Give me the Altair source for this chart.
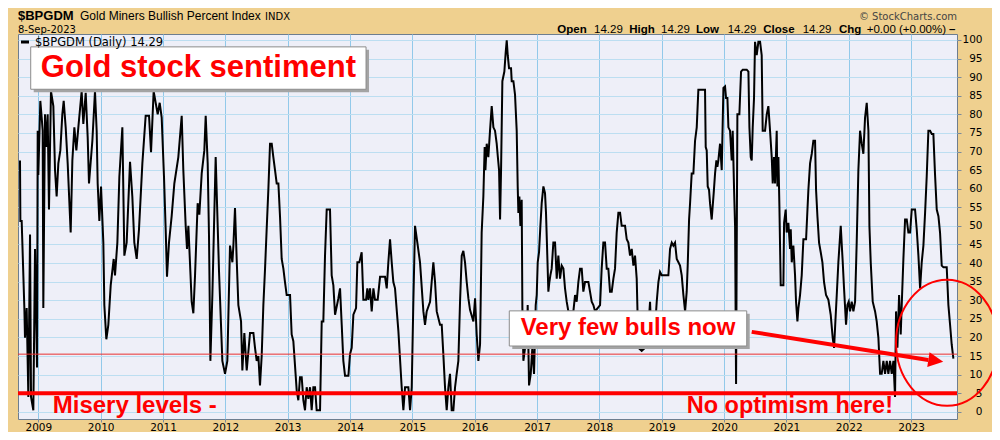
import altair as alt
import pandas as pd

# ---------------- data ----------------
years = [
    2008.706, 2008.712, 2008.733, 2008.776, 2008.786, 2008.813, 2008.840, 2008.867, 2008.883, 2008.920,
    2008.947, 2008.979, 2008.990, 2009.000, 2009.032, 2009.054, 2009.070, 2009.080, 2009.107, 2009.128,
    2009.150, 2009.171, 2009.203, 2009.241, 2009.268, 2009.294, 2009.321, 2009.353, 2009.385, 2009.407,
    2009.439, 2009.471, 2009.519, 2009.546, 2009.578, 2009.610, 2009.642, 2009.695, 2009.722, 2009.760,
    2009.792, 2009.813, 2009.867, 2009.909, 2009.936, 2009.952, 2009.979, 2010.006, 2010.043, 2010.059,
    2010.091, 2010.123, 2010.161, 2010.209, 2010.230, 2010.268, 2010.300, 2010.348, 2010.380, 2010.417,
    2010.471, 2010.508, 2010.540, 2010.578, 2010.615, 2010.669, 2010.722, 2010.776, 2010.808, 2010.850,
    2010.915, 2010.947, 2010.979, 2011.016, 2011.043, 2011.064, 2011.096, 2011.139, 2011.182, 2011.246,
    2011.300, 2011.326, 2011.364, 2011.385, 2011.407, 2011.460, 2011.487, 2011.514, 2011.556, 2011.583,
    2011.621, 2011.663, 2011.685, 2011.717, 2011.738, 2011.760, 2011.792, 2011.845, 2011.899, 2011.952,
    2011.995, 2012.032, 2012.075, 2012.113, 2012.129, 2012.155, 2012.182, 2012.209, 2012.252, 2012.273,
    2012.305, 2012.343, 2012.396,
    2012.450, 2012.476, 2012.503, 2012.530, 2012.556, 2012.583, 2012.610, 2012.637, 2012.663, 2012.690,
    2012.717, 2012.744, 2012.770, 2012.797, 2012.824, 2012.851, 2012.877, 2012.904, 2012.931, 2012.957,
    2012.984, 2013.038, 2013.064, 2013.091, 2013.145, 2013.171, 2013.198, 2013.225, 2013.252, 2013.278,
    2013.305, 2013.332, 2013.359, 2013.385, 2013.412, 2013.439, 2013.465, 2013.519, 2013.546, 2013.572,
    2013.599, 2013.626, 2013.679, 2013.706, 2013.733, 2013.760, 2013.813, 2013.840, 2013.867, 2013.893,
    2013.920, 2013.974, 2014.000, 2014.027, 2014.054, 2014.097, 2014.118, 2014.150, 2014.187, 2014.214,
    2014.257, 2014.278, 2014.294, 2014.321, 2014.348, 2014.375, 2014.401, 2014.444, 2014.482, 2014.562,
    2014.589, 2014.615, 2014.642, 2014.669, 2014.695, 2014.722, 2014.776, 2014.829, 2014.856, 2014.883,
    2014.936, 2014.963, 2014.990, 2015.016, 2015.043, 2015.080, 2015.123, 2015.177, 2015.203, 2015.230,
    2015.284, 2015.310, 2015.337, 2015.364, 2015.391, 2015.444, 2015.471, 2015.497, 2015.524, 2015.551,
    2015.578, 2015.604, 2015.631, 2015.658, 2015.685, 2015.711, 2015.738, 2015.765, 2015.792, 2015.818,
    2015.845, 2015.872, 2015.899, 2015.925, 2015.979, 2016.006, 2016.032, 2016.059, 2016.086, 2016.112,
    2016.139, 2016.160,
    2016.172, 2016.193, 2016.219, 2016.246, 2016.273, 2016.300, 2016.326, 2016.353, 2016.369, 2016.391,
    2016.407, 2016.423, 2016.444, 2016.476, 2016.498, 2016.514, 2016.530, 2016.551, 2016.583, 2016.594,
    2016.621, 2016.647, 2016.674, 2016.690, 2016.701, 2016.717, 2016.733, 2016.754, 2016.765, 2016.781,
    2016.808, 2016.834, 2016.850, 2016.872, 2016.899, 2016.925, 2016.952, 2016.979, 2016.995, 2017.011,
    2017.032, 2017.054, 2017.075, 2017.102, 2017.128, 2017.144, 2017.160, 2017.182, 2017.198, 2017.214,
    2017.235, 2017.262, 2017.289, 2017.316, 2017.342, 2017.369, 2017.396, 2017.423, 2017.449, 2017.476,
    2017.503, 2017.583, 2017.610, 2017.636, 2017.663, 2017.690, 2017.717, 2017.743, 2017.770, 2017.824,
    2017.850, 2017.877, 2017.904, 2017.931, 2018.011, 2018.037, 2018.064, 2018.091, 2018.118, 2018.144,
    2018.171, 2018.198, 2018.225, 2018.251, 2018.278, 2018.305, 2018.332, 2018.358, 2018.412, 2018.439,
    2018.465, 2018.492, 2018.519, 2018.546, 2018.572, 2018.599, 2018.626, 2018.679, 2018.733, 2018.759,
    2018.786, 2018.813, 2018.840, 2018.866, 2018.893, 2018.920, 2018.947, 2018.973, 2019.000, 2019.107,
    2019.134, 2019.161, 2019.187, 2019.214, 2019.241, 2019.268, 2019.294, 2019.321, 2019.348, 2019.375,
    2019.401, 2019.417, 2019.439, 2019.455, 2019.481, 2019.508, 2019.535, 2019.562, 2019.588, 2019.695,
    2019.706, 2019.722, 2019.738, 2019.759, 2019.775, 2019.802, 2019.818, 2019.834, 2019.856, 2019.877,
    2019.893, 2019.909, 2019.936, 2019.963, 2019.990, 2020.016,
    2020.032, 2020.054, 2020.070, 2020.096, 2020.123, 2020.139, 2020.161, 2020.177, 2020.193, 2020.214,
    2020.246, 2020.273, 2020.300, 2020.364, 2020.391, 2020.407, 2020.428, 2020.444, 2020.460, 2020.481,
    2020.497, 2020.524, 2020.551, 2020.578, 2020.604, 2020.620, 2020.658, 2020.685, 2020.711, 2020.738,
    2020.765, 2020.781, 2020.802, 2020.818, 2020.845, 2020.856, 2020.872, 2020.888, 2020.909, 2020.952,
    2020.963, 2020.989, 2021.005, 2021.032, 2021.059, 2021.070, 2021.086, 2021.112, 2021.139, 2021.155,
    2021.177, 2021.193, 2021.219, 2021.246, 2021.273, 2021.316, 2021.353, 2021.380, 2021.407, 2021.433,
    2021.460, 2021.476, 2021.498, 2021.524, 2021.551, 2021.578, 2021.604, 2021.636, 2021.674, 2021.711,
    2021.743, 2021.765, 2021.786, 2021.808, 2021.834, 2021.872, 2021.904, 2021.925, 2021.957, 2021.979,
    2022.000, 2022.021, 2022.048, 2022.075, 2022.102, 2022.128, 2022.155, 2022.182, 2022.209, 2022.235,
    2022.262, 2022.289, 2022.316, 2022.332, 2022.353, 2022.385, 2022.423, 2022.449, 2022.476, 2022.503,
    2022.529, 2022.556, 2022.583, 2022.610, 2022.636, 2022.663, 2022.690, 2022.717, 2022.743, 2022.759,
    2022.781, 2022.808, 2022.834, 2022.856, 2022.877, 2022.904, 2022.931, 2022.957, 2022.984, 2023.011,
    2023.064, 2023.091, 2023.118, 2023.145, 2023.171, 2023.198, 2023.225, 2023.251, 2023.278, 2023.305,
    2023.332, 2023.358, 2023.385, 2023.412, 2023.439, 2023.465, 2023.492, 2023.519, 2023.572, 2023.599,
    2023.626, 2023.652, 2023.679,
]

values = [
    67.6, 51.3, 51.3, 27.9, 19.9, 27.9, 4.0, 47.7, 4.0, 0.4,
    43.8, 11.9, 75.6, 63.7, 83.6, 79.1, 75.6, 27.9, 80.0, 71.2,
    80.0, 54.4, 86.2, 82.2, 65.0, 57.9, 66.8, 70.3, 80.0, 83.6,
    76.5, 66.8, 48.2, 67.6, 76.5, 70.3, 76.5, 86.2, 77.4, 85.8,
    73.8, 61.4, 72.9, 86.2, 75.6, 61.4, 51.3, 60.6, 45.5, 28.7,
    19.5, 23.4, 34.0, 41.1, 36.7, 45.5, 63.2, 76.5, 42.0, 45.5,
    67.2, 57.9, 45.5, 41.1, 49.1, 66.8, 79.6, 79.6, 69.8, 86.2,
    80.0, 83.1, 79.1, 63.2, 49.1, 36.3, 45.5, 52.6, 61.4, 68.5,
    79.6, 65.0, 50.0, 43.8, 50.0, 29.6, 26.5, 36.7, 56.1, 53.0,
    64.1, 70.3, 79.6, 66.8, 47.3, 13.7, 31.4, 68.5, 37.6, 13.7,
    10.2, 13.7, 44.7, 40.2, 44.7, 54.8, 41.1, 28.7, 24.3, 11.1,
    21.2, 11.1, 21.2,
    21.2, 17.2, 13.7, 15.0, 7.1, 15.0, 28.7, 38.5, 49.1, 59.7,
    72.1, 72.1, 68.5, 65.0, 61.4, 61.4, 52.6, 41.1, 38.5, 34.9,
    31.4, 31.4, 20.8, 19.0, 5.7, 3.1, 9.3, 9.3, 3.1, 0.4,
    6.6, 3.5, 6.6, 0.4, 6.6, 6.6, 0.4, 0.4, 24.3, 24.3,
    42.0, 54.4, 54.4, 36.7, 34.0, 26.1, 30.5, 33.2, 23.4, 13.7,
    9.7, 9.7, 15.5, 17.2, 26.1, 27.9, 40.2, 40.2, 42.9, 30.1,
    30.1, 33.2, 30.1, 33.2, 27.0, 33.2, 30.1, 30.1, 36.3, 36.3,
    33.2, 40.2, 46.4, 40.2, 34.9, 33.2, 21.7, 6.6, 0.4, 6.6,
    6.6, 0.4, 6.6, 29.6, 50.0, 45.5, 40.2, 27.0, 23.4, 27.0,
    29.6, 34.9, 40.2, 34.9, 27.0, 23.4, 23.4, 15.5, 6.6, 0.4,
    6.6, 10.2, 0.4, 0.4, 6.6, 10.2, 13.7, 29.6, 42.0, 43.3,
    40.2, 34.9, 30.5, 27.4, 24.3, 30.5, 20.8, 13.7, 18.1, 48.2,
    57.9, 71.2,
    65.0, 72.1, 68.5, 75.6, 82.2, 76.5, 75.6, 72.1, 69.0, 65.0,
    51.7, 65.0, 88.9, 91.5, 96.8, 99.9, 95.9, 92.4, 92.4, 88.9,
    88.9, 85.3, 75.6, 60.6, 53.5, 57.9, 50.0, 57.0, 27.9, 13.7,
    17.2, 17.2, 28.7, 7.1, 10.2, 17.2, 10.2, 28.7, 31.4, 40.2,
    42.9, 50.0, 56.1, 60.6, 58.8, 53.5, 44.7, 32.3, 34.9, 36.7,
    38.5, 45.5, 45.5, 35.8, 42.0, 35.8, 39.3, 38.5, 33.2, 29.6,
    27.0, 27.0, 31.4, 29.6, 34.9, 38.5, 38.5, 32.3, 34.9, 34.9,
    32.3, 29.6, 28.7, 27.0, 28.7, 38.5, 45.5, 45.5, 38.5, 38.5,
    32.3, 32.3, 35.8, 38.5, 48.2, 53.5, 53.5, 50.0, 50.0, 46.4,
    45.5, 42.0, 43.8, 39.3, 42.0, 35.8, 17.2, 16.4, 17.2, 17.2,
    22.5, 29.6, 17.2, 17.2, 22.5, 29.6, 34.9, 37.6, 36.7, 36.7,
    43.8, 45.5, 44.7, 45.5, 41.1, 40.2, 39.3, 36.7, 31.4, 27.0,
    32.3, 39.3, 51.7, 56.1, 64.1, 64.1, 72.9, 76.5, 86.6, 86.6,
    71.2, 70.3, 60.6, 59.7, 56.1, 51.7, 55.3, 58.8, 64.1, 67.6,
    65.9, 67.6, 72.1, 65.0, 87.1, 87.5,
    84.4, 84.4, 76.5, 75.6, 67.6, 75.6, 59.7, 50.0, 7.5, 80.0,
    80.0, 91.5, 92.0, 92.0, 91.5, 76.5, 68.5, 67.6, 76.5, 84.4,
    99.5, 95.9, 99.5, 99.5, 95.9, 75.6, 75.6, 80.0, 82.2, 75.6,
    68.5, 61.4, 68.5, 61.4, 75.6, 60.6, 68.5, 55.3, 34.0, 34.0,
    50.8, 54.4, 48.2, 50.8, 43.8, 49.1, 40.2, 44.7, 36.7, 29.6,
    24.3, 27.9, 31.4, 36.7, 46.4, 46.4, 59.7, 66.8, 69.4, 72.9,
    72.9, 59.7, 52.6, 45.5, 42.9, 40.2, 34.9, 31.4, 30.1, 26.1,
    19.9, 17.2, 24.3, 31.4, 40.2, 50.0, 40.2, 33.2, 23.4, 28.7,
    29.6, 27.0, 29.6, 27.0, 29.6, 45.5, 65.0, 75.6, 72.1, 69.4,
    79.1, 83.1, 75.6, 50.0, 40.2, 29.6, 27.0, 24.3, 19.9, 10.2,
    10.2, 13.7, 10.2, 13.7, 10.2, 13.7, 10.2, 13.7, 4.0, 27.0,
    17.2, 31.4, 20.8, 31.4, 41.1, 51.7, 51.7, 48.2, 48.2, 54.4,
    54.4, 49.1, 42.0, 33.2, 40.2, 44.7, 53.5, 63.2, 75.6, 75.6,
    74.7, 74.7, 63.7, 54.4, 52.6, 48.2, 39.3, 38.9, 38.9, 28.7,
    23.4, 18.1, 14.3,
]

year_ticks = [2009, 2010, 2011, 2012, 2013, 2014, 2015, 2016,
              2017, 2018, 2019, 2020, 2021, 2022, 2023]
half_year_lines = [2009.5, 2010.5, 2011.5, 2012.5, 2013.5, 2014.5, 2015.5, 2016.5,
                   2017.5, 2018.5, 2019.5, 2020.5, 2021.5, 2022.5, 2023.5]
y_ticks = [0, 5, 10, 15, 20, 25, 30, 35, 40, 45, 50, 55, 60, 65, 70, 75, 80, 85, 90, 95, 100]

misery_level = [5]
recent_level = [15.5]

# annotation boxes (data coordinates)
box_x0 = [2008.878, 2016.555]
box_x1 = [2014.257, 2020.364]
box_y0 = [98.14, 27.14]
box_y1 = [86.74, 17.69]

# ---------------- styling ----------------
RED = "#ff0000"
BG = "#efd08f"
PLOT_BG = "#eeeff8"
GRID = "#bcdef1"
GRID_YEAR = "#92c9ea"
W, H = 939, 385

xs = alt.Scale(domain=[2008.674, 2023.737], nice=False, zero=False)
ys = alt.Scale(domain=[-1.94, 101.6], nice=False, zero=False)

is_year = "datum.value % 1 === 0"

x_axis = alt.Axis(
    values=sorted(year_ticks + half_year_lines),
    format="d",
    labelExpr=f"{is_year} ? datum.label : ''",
    grid=True,
    gridColor={"condition": {"test": is_year, "value": GRID_YEAR}, "value": GRID},
    gridWidth=1,
    ticks=True,
    tickSize=3,
    tickColor={"condition": {"test": is_year, "value": "#7a8a9c"}, "value": "transparent"},
    labelPadding=0,
    labelFont="DejaVu Sans",
    labelFontSize=10.5,
    labelColor="#000000",
    labelOverlap=False,
    labelFlush=False,
    domain=False,
    title=None,
)
y_axis = alt.Axis(
    orient="right",
    values=y_ticks,
    grid=True,
    gridColor=GRID,
    gridWidth=1,
    tickSize=4,
    tickColor="#7a8a9c",
    labelAlign="right",
    labelPadding=21,
    labelFont="DejaVu Sans",
    labelFontSize=10.5,
    labelColor="#000000",
    labelOverlap=False,
    domain=False,
    title=None,
)


def X(field):
    return alt.X(f"{field}:Q", scale=xs, axis=x_axis)


def Y(field):
    return alt.Y(f"{field}:Q", scale=ys, axis=y_axis)


df = pd.DataFrame({"year": years, "value": values})

line = alt.Chart(df).mark_line(color="black", strokeWidth=2, clip=True).encode(
    x=X("year"), y=Y("value"),
)

thin_red = alt.Chart(pd.DataFrame({"value": recent_level})).mark_rule(
    color="#e83030", strokeWidth=1
).encode(y=Y("value"))

thick_red = alt.Chart(pd.DataFrame({"value": misery_level})).mark_rule(
    color=RED, strokeWidth=4
).encode(y=Y("value"))

boxes = pd.DataFrame({"x0": box_x0, "x1": box_x1, "y0": box_y0, "y1": box_y1})

shadow = alt.Chart(boxes).transform_calculate(
    sx0="datum.x0 + 0.048", sx1="datum.x1 + 0.048",
    sy0="datum.y0 - 0.8", sy1="datum.y1 - 0.8",
).mark_rect(color="#a4a4a4").encode(
    x=X("sx0"), x2="sx1:Q", y=Y("sy0"), y2="sy1:Q",
)
box = alt.Chart(boxes).mark_rect(fill="white", stroke="#8c8c8c", strokeWidth=1).encode(
    x=X("x0"), x2="x1:Q", y=Y("y0"), y2="y1:Q",
)


def note(text, x, y, size, align="center", baseline="middle"):
    return alt.Chart(pd.DataFrame({"x": [x], "y": [y]})).mark_text(
        text=text, font="Liberation Sans", fontWeight="bold", fontSize=size,
        color=RED, align=align, baseline=baseline,
    ).encode(x=X("x"), y=Y("y"))


notes = [
    note("Gold stock sentiment", 2011.568, 92.44, 31),
    note("Very few bulls now", 2018.46, 22.4, 24),
    note("Misery levels -", 2009.231, -0.45, 24, align="left", baseline="alphabetic"),
    note("No optimism here!", 2019.401, -0.45, 23.5, align="left", baseline="alphabetic"),
]

arrow_line = alt.Chart(pd.DataFrame({
    "x": [2020.444], "y": [21.49], "x2": [2023.277], "y2": [13.93]
})).mark_rule(color=RED, strokeWidth=4).encode(
    x=X("x"), x2="x2:Q", y=Y("y"), y2="y2:Q",
)
arrow_head = alt.Chart(pd.DataFrame({"x": [2023.397], "y": [13.74]})).mark_point(
    shape="M1,0L-1,-1L-1,1Z", size=225, angle=8.9, filled=True,
    color=RED, opacity=1, strokeWidth=0,
).encode(x=X("x"), y=Y("y"))
ellipse = alt.Chart(pd.DataFrame({"x": [2023.577], "y": [18.57]})).mark_point(
    shape="M-1,0A1,1.235,0,1,1,1,0A1,1.235,0,1,1,-1,0Z", size=10404,
    filled=False, color=RED, opacity=1, strokeWidth=2,
).encode(x=X("x"), y=Y("y"))


def label(text, x, y, size, weight="normal", font="Liberation Sans",
          color="#000000", align="left"):
    return alt.Chart(alt.Data(values=[{"k": 0}])).mark_text(
        text=text, align=align, baseline="alphabetic", fontSize=size,
        fontWeight=weight, font=font, color=color,
    ).encode(x=alt.value(x), y=alt.value(y))


L1 = -13.7   # first header line baseline (relative to plot top)
L2 = -1.5    # second header line baseline

header = [
    label("$BPGDM", 0, L1, 13, weight="bold"),
    label("Gold Miners Bullish Percent Index", 62, L1 - 0.3, 12),
    label("INDX", 247, L1 - 0.3, 10, font="DejaVu Sans"),
    label("8-Sep-2023", 0, L2, 10, font="DejaVu Sans"),
    label("\u00a9 StockCharts.com", W, L1 - 0.8, 10, font="DejaVu Sans", color="#444444", align="right"),
    label("Open", 539.3, L2, 11.5, weight="bold"),
    label("14.29", 576, L2, 11.5),
    label("High", 611.3, L2, 11.5, weight="bold"),
    label("14.29", 643, L2, 11.5),
    label("Low", 678, L2, 11.5, weight="bold"),
    label("14.29", 709.7, L2, 11.5),
    label("Close", 745.3, L2, 11.5, weight="bold"),
    label("14.29", 784.7, L2, 11.5),
    label("Chg", 821, L2, 11.5, weight="bold"),
    label("+0.00 (+0.00%)", 848.7, L2, 11.5),
    label("\u2013", 931, L2, 11.5, weight="bold"),
    label("$BPGDM (Daily) 14.29", 17, 12, 11.5, font="DejaVu Sans"),
]
legend_dash = alt.Chart(alt.Data(values=[{"k": 0}])).mark_rule(
    color="black", strokeWidth=3
).encode(x=alt.value(3), x2=alt.value(11), y=alt.value(8))

layers = [line, thin_red, thick_red, shadow, box] + notes + [arrow_line, arrow_head, ellipse] + header + [legend_dash]

chart = alt.layer(*layers).properties(
    width=W,
    height=H,
    background=BG,
    padding={"left": 10, "top": 26, "right": 35, "bottom": 13},
    autosize=alt.AutoSizeParams(type="none"),
).configure_view(fill=PLOT_BG, stroke="#6d7d8f", strokeWidth=1)

chart.save("out.html", embed_options={"renderer": "svg", "actions": False})
